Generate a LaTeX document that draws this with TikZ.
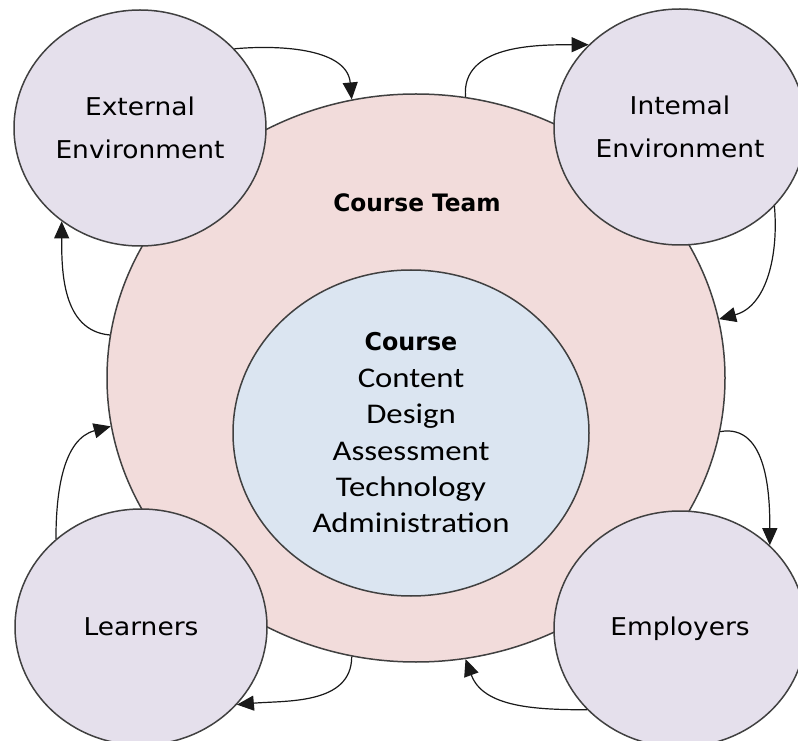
\documentclass[tikz,border=0pt]{standalone}
\usepackage{fontspec}
\setmainfont{DejaVu Sans}
\newfontfamily\lblfont[FakeStretch=1.08]{DejaVu Sans}
\newfontfamily\boldlbl[FakeStretch=0.97]{DejaVu Sans}
\newfontfamily\innerfont[FakeStretch=1.15]{Carlito}
\usetikzlibrary{shapes.geometric,arrows.meta}
\definecolor{teamfill}{HTML}{F2DCDB}
\definecolor{coursefill}{HTML}{DBE5F1}
\definecolor{partyfill}{HTML}{E5E0EC}
\definecolor{edgegray}{HTML}{404040}
\tikzset{
  outline/.style={ellipse, draw=edgegray, line width=1.5pt, inner sep=0pt, align=center},
  party/.style={outline, fill=partyfill, minimum width=252pt, minimum height=236pt,
    font=\lblfont\fontsize{24.5}{43}\selectfont},
  teamshape/.style={outline, fill=teamfill, minimum width=618pt, minimum height=568pt},
  courseshape/.style={outline, fill=coursefill, minimum width=356pt, minimum height=326pt,
    font=\innerfont\fontsize{28.5}{36.4}\selectfont},
  teamtext/.style={font=\boldlbl\bfseries\fontsize{24}{28}\selectfont},
  link/.style={-{Triangle[length=17pt,width=15pt]}, line width=1.2pt, draw=black!90}
}
\begin{document}
\begin{tikzpicture}[x=1pt,y=1pt]
\useasboundingbox[fill=white] (0,0) rectangle (798,740);
\node[teamshape] (team) at (416,362) {};
\node[courseshape] (course) at (411,307) {{\boldlbl\bfseries\fontsize{24.5}{36.4}\selectfont Course}\\Content\\Design\\Assessment\\Technology\\Administration};
\node[teamtext] (teamlbl) at (417,537) {Course Team};
\node[party] (ext) at (140,612) {External\\Environment};
\node[party] (int) at (680,613) {Intemal\\Environment};
\node[party] (learn) at (141,113) {Learners};
\node[party] (emp) at (680,111) {Employers};
\draw[link] (ext.40) to[out=5,in=95] (team.103);
\draw[link] (team.80) to[out=95,in=180] (int.138);
\draw[link] (int.-40) to[out=-85,in=15] (team.11);
\draw[link] (team.-10) to[out=10,in=90] (emp.43);
\draw[link] (emp.221) to[out=180,in=-70] (team.-80);
\draw[link] (team.-103) to[out=-90,in=5] (learn.-39);
\draw[link] (learn.134) to[out=90,in=195] (team.189);
\draw[link] (team.172) to[out=175,in=-90] (ext.230);
\end{tikzpicture}
\end{document}
